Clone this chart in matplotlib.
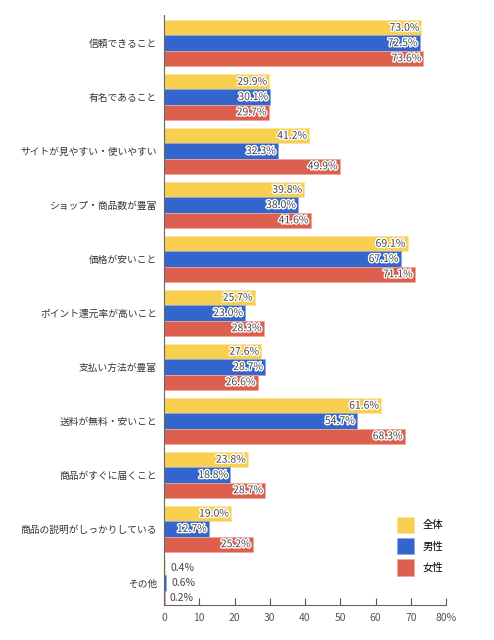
import matplotlib
matplotlib.use("Agg")
import matplotlib.pyplot as plt
import matplotlib.patheffects as pe
import numpy as np

plt.rcParams['font.family'] = ['Noto Sans CJK JP', 'DejaVu Sans']

categories = ["信頼できること", "有名であること", "サイトが見やすい・使いやすい", "ショップ・商品数が豊富",
              "価格が安いこと", "ポイント還元率が高いこと", "支払い方法が豊富", "送料が無料・安いこと",
              "商品がすぐに届くこと", "商品の説明がしっかりしている", "その他"]
zentai = [73.0, 29.9, 41.2, 39.8, 69.1, 25.7, 27.6, 61.6, 23.8, 19.0, 0.4]
dansei = [72.5, 30.1, 32.3, 38.0, 67.1, 23.0, 28.7, 54.7, 18.8, 12.7, 0.6]
josei = [73.6, 29.7, 49.9, 41.6, 71.1, 28.3, 26.6, 68.3, 28.7, 25.2, 0.2]
series_names = ["全体", "男性", "女性"]
colors = ["#F8CF4F", "#3366CC", "#DD5F4E"]
edge_colors = ["#FBE3A0", "#8FA9E0", "#EDA89E"]
xticks = [0, 10, 20, 30, 40, 50, 60, 70, 80]
xticklabels = ["0", "10", "20", "30", "40", "50", "60", "70", "80%"]

fig = plt.figure(figsize=(4.94, 6.4), dpi=100)
ax = fig.add_axes([164/494, 1-605/640, (446-164)/494, (605-15)/640])

y = np.arange(len(categories))
h = 0.283
for i, (vals, c, ec, name) in enumerate(zip([zentai, dansei, josei], colors, edge_colors, series_names)):
    pos = y + (i - 1) * h
    ax.barh(pos, vals, height=h, color=c, label=name, edgecolor=ec, linewidth=0.6)
    for p, v in zip(pos, vals):
        txt = f"{v:.1f}%"
        if v > 8:
            ax.text(v - 0.6, p, txt, ha='right', va='center', fontsize=7.5, color='#444444',
                    path_effects=[pe.withStroke(linewidth=2, foreground='white')])
        else:
            ax.text(v + 1.5, p, txt, ha='left', va='center', fontsize=7.5, color='#444444')

ax.set_xlim(0, 80)
ax.set_ylim(10.41, -0.52)
ax.set_yticks(y)
ax.set_yticklabels(categories, fontsize=7, color='#333333')
ax.set_xticks(xticks)
ax.set_xticklabels(xticklabels, fontsize=7.5, color='#555555')
ax.tick_params(axis='y', length=0, pad=5)
ax.tick_params(axis='x', direction='in', length=5, color='#555555', pad=6)
for s in ['top', 'right']:
    ax.spines[s].set_visible(False)
ax.spines['left'].set_color('#666666')
ax.spines['bottom'].set_color('#666666')

leg = ax.legend(loc='lower left', bbox_to_anchor=(0.794, 0.034), frameon=False, fontsize=7.5,
                handlelength=1.65, handleheight=2.0, labelspacing=0.5, handletextpad=0.77,
                borderpad=0.4)

fig.savefig("out.png", dpi=100, facecolor='white')
